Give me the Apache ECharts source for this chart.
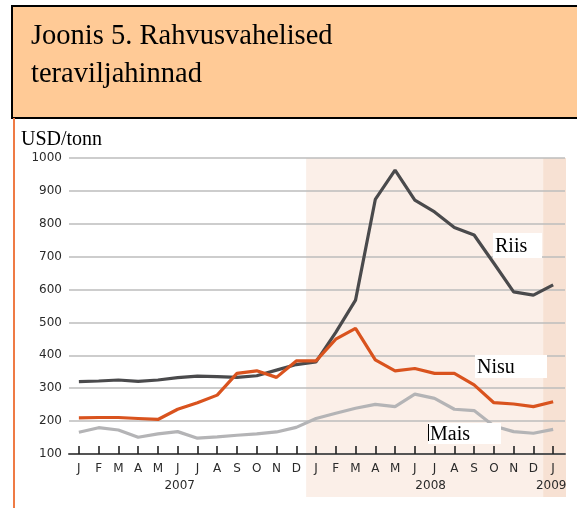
<!DOCTYPE html>
<html><head><meta charset="utf-8">
<script src="https://cdn.jsdelivr.net/npm/echarts@6/dist/echarts.min.js"></script>
<style>html,body{margin:0;padding:0;background:#fff}#c{width:577px;height:508px}</style>
</head><body><div id="c"></div>
<script>
const months = ['J','F','M','A','M','J','J','A','S','O','N','D','J','F','M','A','M','J','J','A','S','O','N','D','J'];
const years = ['2007', '2008', '2009'];
const yearPos = [5.1, 17.8, 23.9];
const riis = [320, 322, 325, 321, 325, 332, 337, 335, 333, 338, 355, 372, 380, 470, 568, 874, 963, 872, 836, 789, 766, 680, 593, 583, 614];
const nisu = [210, 211, 211, 208, 205, 236, 256, 279, 345, 353, 333, 383, 383, 449, 482, 386, 353, 360, 345, 345, 310, 256, 252, 244, 259];
const mais = [166, 180, 173, 151, 161, 168, 148, 152, 157, 161, 167, 181, 208, 224, 239, 251, 244, 282, 269, 236, 232, 185, 168, 163, 175];
const seriesNames = ['Riis', 'Nisu', 'Mais'];

const chart = echarts.init(document.getElementById('c'), null, {renderer: 'canvas'});
const toPairs = arr => arr.map((v, i) => [i, v]);
const idx = months.map((m, i) => i);
const labelFont = 'DejaVu Sans';

const option = {
  animation: false,
  backgroundColor: '#fff',
  grid: {left: 69, right: 12, top: 158, bottom: 54, containLabel: false},
  xAxis: [{
    type: 'value', min: -0.5, max: 24.6,
    splitLine: {show: false},
    axisLine: {show: true, onZero: false, lineStyle: {color: '#555', width: 2}},
    axisTick: {show: true, inside: true, length: 8, customValues: idx, lineStyle: {color: '#222', width: 1.6}},
    axisLabel: {show: true, customValues: idx, margin: 9, fontFamily: labelFont, fontSize: 12, color: '#2a2a2a',
      formatter: v => months[Math.round(v)]}
  }, {
    type: 'value', min: -0.5, max: 24.6, position: 'bottom',
    splitLine: {show: false}, axisLine: {show: false}, axisTick: {show: false},
    axisLabel: {show: true, customValues: yearPos, margin: 26, fontFamily: labelFont, fontSize: 12, color: '#2a2a2a',
      formatter: v => years[yearPos.indexOf(v)]}
  }],
  yAxis: {
    type: 'value', min: 100, max: 1000, interval: 100,
    axisLine: {show: false}, axisTick: {show: false},
    splitLine: {show: true, lineStyle: {color: '#bdbdbd', width: 1.5}},
    axisLabel: {margin: 7, fontFamily: labelFont, fontSize: 12, color: '#2a2a2a', formatter: v => String(v)}
  },
  series: [
    {name: seriesNames[0], type: 'line', data: toPairs(riis), symbol: 'none', lineStyle: {color: '#4a4a4c', width: 3.2}, z: 3},
    {name: seriesNames[1], type: 'line', data: toPairs(nisu), symbol: 'none', lineStyle: {color: '#d9531e', width: 3.2}, z: 4},
    {name: seriesNames[2], type: 'line', data: toPairs(mais), symbol: 'none', lineStyle: {color: '#b4b4b6', width: 3.2}, z: 5}
  ]
};
chart.setOption(option);

const x0 = chart.convertToPixel({xAxisIndex: 0}, 11.5);
const x1 = chart.convertToPixel({xAxisIndex: 0}, 23.5);
const x2 = chart.convertToPixel({xAxisIndex: 0}, 24.65);
const yTop = chart.convertToPixel({yAxisIndex: 0}, 1000);

function labelBox(x, y, w, h, text) {
  return [
    {type: 'rect', z: 50, shape: {x: x, y: y, width: w, height: h}, style: {fill: '#fff'}},
    {type: 'text', z: 51, x: x + 2, y: y + h / 2 + 1, style: {text: text, fontFamily: 'Liberation Serif', fontSize: 20, fill: '#000', verticalAlign: 'middle'}}
  ];
}

chart.setOption({
  graphic: [
    {type: 'rect', z: -2, shape: {x: x0, y: yTop, width: x2 - x0, height: 497 - yTop}, style: {fill: '#fbefe8'}},
    {type: 'rect', z: -1, shape: {x: x1, y: yTop, width: x2 - x1, height: 497 - yTop}, style: {fill: '#f7e1d3'}},
    {type: 'rect', z: 40, shape: {x: 12, y: 6, width: 580, height: 112}, style: {fill: '#ffca96', stroke: '#000', lineWidth: 2}},
    {type: 'text', z: 41, x: 31, y: 22, style: {text: 'Joonis 5. Rahvusvahelised', fontFamily: 'Liberation Serif', fontSize: 28.5, fill: '#000', verticalAlign: 'top'}},
    {type: 'text', z: 41, x: 31, y: 60, style: {text: 'teraviljahinnad', fontFamily: 'Liberation Serif', fontSize: 28.5, fill: '#000', verticalAlign: 'top'}},
    {type: 'line', z: 41, shape: {x1: 14, y1: 118, x2: 14, y2: 508}, style: {stroke: '#ef7b45', lineWidth: 2}},
    {type: 'text', z: 41, x: 21, y: 130, style: {text: 'USD/tonn', fontFamily: 'Liberation Serif', fontSize: 20, fill: '#000', verticalAlign: 'top'}},
    ...labelBox(493, 233, 49, 25, 'Riis'),
    ...labelBox(475, 355, 72, 23, 'Nisu'),
    ...labelBox(428, 423, 73, 21, 'Mais'),
    {type: 'line', z: 52, shape: {x1: 428.5, y1: 424, x2: 428.5, y2: 441}, style: {stroke: '#000', lineWidth: 1}}
  ]
});
</script></body></html>
